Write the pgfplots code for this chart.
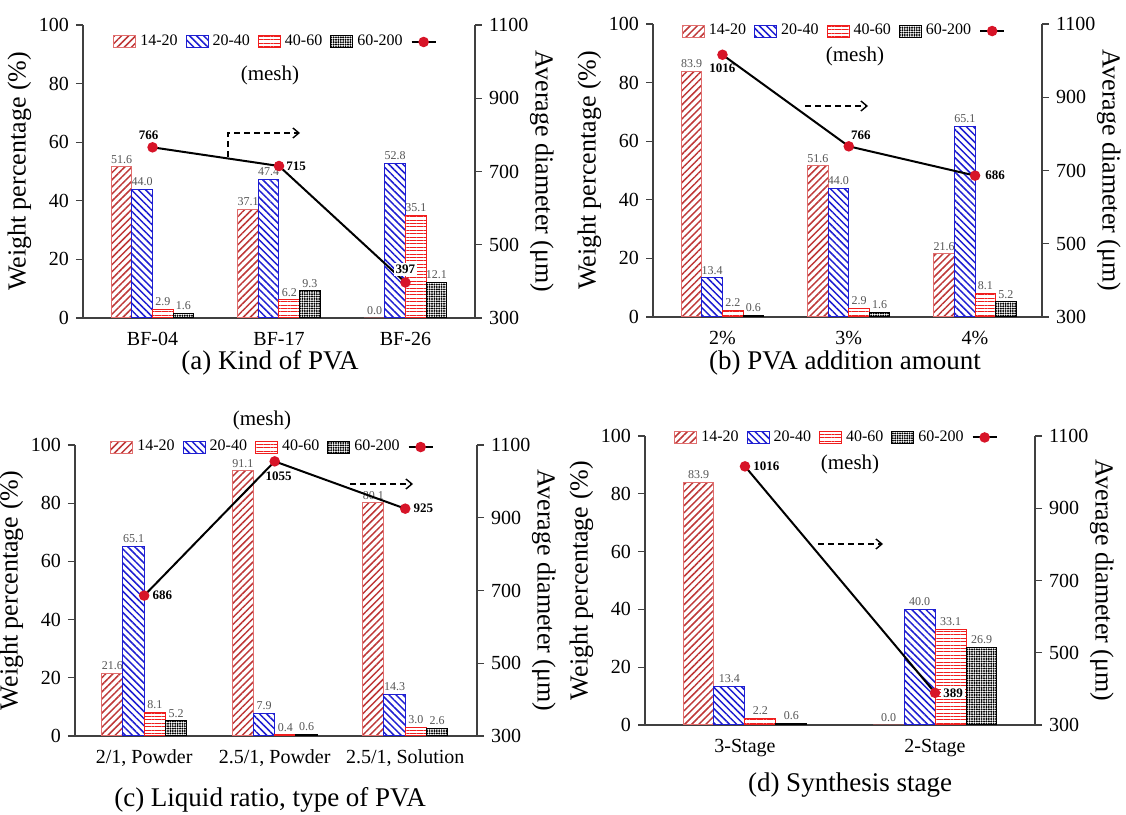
\documentclass[border=0pt]{standalone}
\usepackage{fontspec}
\setmainfont{Liberation Serif}
\usepackage{pgfplots}
\pgfplotsset{compat=1.18}
\usetikzlibrary{patterns.meta,arrows.meta}

\definecolor{cA}{RGB}{190,55,55}
\definecolor{cAb}{RGB}{225,110,110}
\definecolor{cB}{RGB}{30,30,210}
\definecolor{cC}{RGB}{240,30,30}
\definecolor{dotc}{RGB}{215,20,40}
\definecolor{lab}{RGB}{85,85,85}

\tikzset{
  vlab/.style={font=\bfseries\fontsize{6.5}{8}\selectfont, inner sep=1pt},
  darr/.style={line width=0.7pt, dash pattern=on 3pt off 2pt, -{Straight Barb[length=3pt,width=5pt]}},
  captxt/.style={font=\fontsize{13.5}{16}\selectfont},
  meshtxt/.style={font=\fontsize{10.5}{12}\selectfont},
}

\pgfplotsset{
  /pgf/number format/assume math mode=true,
  /pgf/number format/1000 sep={},
  sA/.style={draw=cAb, line width=0.5pt, pattern={Lines[angle=45,distance=2.5pt,line width=0.75pt]}, pattern color=cA},
  sB/.style={draw=cB, line width=0.5pt, pattern={Lines[angle=-45,distance=2.5pt,line width=0.75pt]}, pattern color=cB},
  sC/.style={draw=cC, line width=0.5pt, pattern={Lines[angle=0,distance=1.7pt,line width=0.45pt]}, pattern color=cC},
  sD/.style={draw=black, line width=0.5pt, pattern={Dots[distance=1.2pt,radius=0.55pt]}, pattern color=black},
  sL/.style={black, line width=1pt, mark=*, mark size=2.1pt, mark options={draw=dotc, fill=dotc}},
  barleg/.style={legend image code/.code={\draw[##1] (0pt,-3pt) rectangle (11pt,3pt);}},
  lineleg/.style={legend image code/.code={\draw[mark repeat=2,mark phase=2,##1] plot coordinates {(0pt,0pt) (6pt,0pt) (12pt,0pt)};}},
  common/.style={
    scale only axis, anchor=south west, clip=false,
    tick align=outside, major tick length=3.5pt,
    axis line style={black!75, line width=0.6pt},
    tick style={black!75, line width=0.6pt},
    ticklabel style={font=\fontsize{10}{12}\selectfont},
    label style={font=\fontsize{13}{15}\selectfont},
  },
  prim/.style={
    common,
    ybar=0pt, bar width=0.163,
    ymin=0, ymax=100, ytick={0,20,40,60,80,100},
    xtick={0,1,2},
    axis y line*=left, axis x line*=bottom,
    major x tick style={draw=none},
    ylabel={Weight percentage (\%)}, ylabel shift=-3pt,
    nodes near coords={\pgfmathprintnumber[fixed,fixed zerofill,precision=1]{\pgfplotspointmeta}},
    nodes near coords align={vertical},
    every node near coord/.append style={font=\fontsize{6}{7}\selectfont, text=lab, inner sep=1.5pt},
  },
  sec/.style={
    common,
    axis x line=none, axis y line*=right,
    ymin=300, ymax=1100, ytick={300,500,700,900,1100},
    ylabel={Average diameter (μm)}, ylabel style={rotate=180}, ylabel shift=-6pt,
    legend columns=5,
    legend style={draw=none, fill=none, anchor=center, inner sep=0pt,
      font=\fontsize{8}{10}\selectfont,
      /tikz/every even column/.append style={column sep=2pt}},
  },
}

\newcommand{\legendbits}{%
  \addlegendimage{sA,barleg}\addlegendentry{14-20}
  \addlegendimage{sB,barleg}\addlegendentry{20-40}
  \addlegendimage{sC,barleg}\addlegendentry{40-60}
  \addlegendimage{sD,barleg}\addlegendentry{60-200}
}

\begin{document}
\begin{tikzpicture}
\useasboundingbox (0,0) rectangle (563pt,407.5pt);

% (a) Kind of PVA
\begin{axis}[prim, at={(41.5pt,248.5pt)}, width=196pt, height=146.5pt,
  xmin=-0.55, xmax=2.55, xticklabels={BF-04,BF-17,BF-26}]
\addplot[sA] coordinates {(0,51.6) (1,37.1) (2,0.0)};
\addplot[sB] coordinates {(0,44.0) (1,47.4) (2,52.8)};
\addplot[sC] coordinates {(0,2.9) (1,6.2) (2,35.1)};
\addplot[sD] coordinates {(0,1.6) (1,9.3) (2,12.1)};
\end{axis}
\begin{axis}[sec, at={(41.5pt,248.5pt)}, width=196pt, height=146.5pt,
  xmin=-0.55, xmax=2.55, legend style={at={(0.5,0.942)}}]
\legendbits
\addplot[sL,lineleg] coordinates {(0,766) (1,715) (2,397)};
\addlegendentry{}
\node[vlab, anchor=south, xshift=-2pt, yshift=2.5pt] at (axis cs:0,766) {766};
\node[vlab, anchor=west, xshift=2.5pt] at (axis cs:1,715) {715};
\node[vlab, anchor=south, yshift=3pt, fill=white] at (axis cs:2,397) {397};
\end{axis}

% (b) PVA addition amount
\begin{axis}[prim, at={(326.5pt,249pt)}, width=194.5pt, height=146.5pt,
  xmin=-0.55, xmax=2.53, xticklabels={2\%,3\%,4\%}]
\addplot[sA] coordinates {(0,83.9) (1,51.6) (2,21.6)};
\addplot[sB] coordinates {(0,13.4) (1,44.0) (2,65.1)};
\addplot[sC] coordinates {(0,2.2) (1,2.9) (2,8.1)};
\addplot[sD] coordinates {(0,0.6) (1,1.6) (2,5.2)};
\end{axis}
\begin{axis}[sec, at={(326.5pt,249pt)}, width=194.5pt, height=146.5pt,
  xmin=-0.55, xmax=2.53, legend style={at={(0.5,0.976)}}]
\legendbits
\addplot[sL,lineleg] coordinates {(0,1016) (1,766) (2,686)};
\addlegendentry{}
\node[vlab, anchor=north, yshift=-3.5pt] at (axis cs:0,1016) {1016};
\node[vlab, anchor=south west, yshift=2pt] at (axis cs:1,766) {766};
\node[vlab, anchor=west, xshift=4pt] at (axis cs:2,686) {686};
\end{axis}

% (c) Liquid ratio, type of PVA
\begin{axis}[prim, at={(37.5pt,39.5pt)}, width=201pt, height=145.5pt,
  xmin=-0.53, xmax=2.55,
  xticklabels={{2/1, Powder},{2.5/1, Powder},{2.5/1, Solution}}]
\addplot[sA] coordinates {(0,21.6) (1,91.1) (2,80.1)};
\addplot[sB] coordinates {(0,65.1) (1,7.9) (2,14.3)};
\addplot[sC] coordinates {(0,8.1) (1,0.4) (2,3.0)};
\addplot[sD] coordinates {(0,5.2) (1,0.6) (2,2.6)};
\end{axis}
\begin{axis}[sec, at={(37.5pt,39.5pt)}, width=201pt, height=145.5pt,
  xmin=-0.53, xmax=2.55, legend style={at={(0.5,0.993)}}]
\legendbits
\addplot[sL,lineleg] coordinates {(0,686) (1,1055) (2,925)};
\addlegendentry{}
\node[vlab, anchor=west, xshift=3pt] at (axis cs:0,686) {686};
\node[vlab, anchor=north, xshift=2pt, yshift=-4pt] at (axis cs:1,1055) {1055};
\node[vlab, anchor=west, xshift=3pt] at (axis cs:2,925) {925};
\end{axis}

% (d) Synthesis stage
\begin{axis}[prim, at={(322.5pt,45pt)}, width=195pt, height=144.5pt,
  xmin=-0.526, xmax=1.526, xtick={0,1}, xticklabels={3-Stage,2-Stage}]
\addplot[sA] coordinates {(0,83.9) (1,0.0)};
\addplot[sB] coordinates {(0,13.4) (1,40.0)};
\addplot[sC] coordinates {(0,2.2) (1,33.1)};
\addplot[sD] coordinates {(0,0.6) (1,26.9)};
\end{axis}
\begin{axis}[sec, at={(322.5pt,45pt)}, width=195pt, height=144.5pt,
  xmin=-0.526, xmax=1.526, legend style={at={(0.5,0.995)}}]
\legendbits
\addplot[sL,lineleg] coordinates {(0,1016) (1,389)};
\addlegendentry{}
\node[vlab, anchor=west, xshift=3pt] at (axis cs:0,1016) {1016};
\node[vlab, anchor=west, xshift=3pt, fill=white] at (axis cs:1,389) {389};
\end{axis}

% mesh notes
\node[meshtxt] at (135pt,370pt) {(mesh)};
\node[meshtxt] at (427.5pt,379.5pt) {(mesh)};
\node[meshtxt] at (131pt,197.5pt) {(mesh)};
\node[meshtxt] at (425pt,175.5pt) {(mesh)};

% dashed arrows
\draw[darr] (114pt,329pt) -- (114pt,341pt) -- (150pt,341pt);
\draw[darr] (402.5pt,354.5pt) -- (434pt,354.5pt);
\draw[darr] (175pt,165.5pt) -- (206.5pt,165.5pt);
\draw[darr] (409pt,135.5pt) -- (441.5pt,135.5pt);

% captions
\node[captxt] at (135pt,226pt) {(a) Kind of PVA};
\node[captxt] at (422.5pt,226pt) {(b) PVA addition amount};
\node[captxt] at (135pt,7.5pt) {(c) Liquid ratio, type of PVA};
\node[captxt] at (425pt,15pt) {(d) Synthesis stage};
\end{tikzpicture}
\end{document}
